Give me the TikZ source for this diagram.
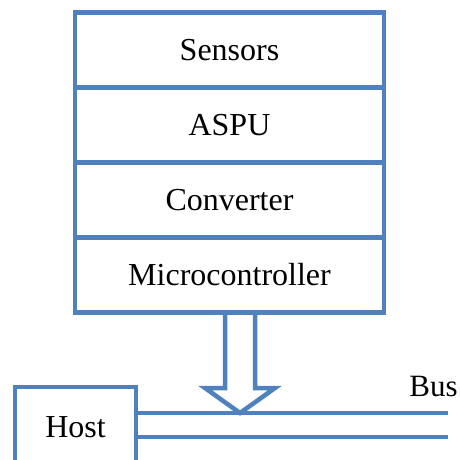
\documentclass[tikz,border=0pt]{standalone}
\usepackage{fontspec}
\setmainfont{Liberation Serif}
\usetikzlibrary{calc,positioning}
\definecolor{stackblue}{RGB}{79,129,189}
\tikzset{
    % one layer of the sensor node stack
    layer/.style={
        rectangle, draw=stackblue, line width=4.5pt,
        minimum width=309pt, minimum height=75pt,
        inner sep=0pt, outer sep=0pt,
        font=\fontsize{32}{38}\selectfont
    },
    % host box (bottom runs off the picture)
    hostbox/.style={layer, minimum width=121pt, minimum height=80pt},
    % bus wires and the hollow arrow
    busline/.style={stackblue, line width=4.5pt},
    fatarrow/.style={draw=stackblue, line width=4.5pt, line join=miter},
    buslabel/.style={font=\fontsize{31}{36}\selectfont, anchor=base, inner sep=0pt}
}
\begin{document}
\begin{tikzpicture}[x=1pt,y=-1pt]
  \useasboundingbox (0,0) rectangle (459,460);
  \clip (0,0) rectangle (459,460);
  % stack
  \node[layer] (sensors) at (229.5,50) {Sensors};
  \node[layer,below=0pt of sensors] (aspu) {ASPU};
  \node[layer,below=0pt of aspu] (converter) {Converter};
  \node[layer,below=0pt of converter] (micro) {Microcontroller};
  % host and bus
  \node[hostbox] (host) at (75.5,427) {Host};
  \coordinate (bus1end) at (448,413);
  \coordinate (bus2end) at (448,437);
  \draw[busline] (host.east |- bus1end) -- (bus1end);
  \draw[busline] (host.east |- bus2end) -- (bus2end);
  \node[buslabel] (bus) at (433.5,396) {Bus};
  % arrow from the microcontroller to the bus
  \coordinate (tip) at ($(micro.south |- bus1end)+(10.5,0)$);
  \draw[fatarrow] ($(micro.south)+(-4.5,0)$) -- ($(tip)+(-15,-25)$)
    -- ($(tip)+(-35,-25)$) -- (tip) -- ($(tip)+(35,-25)$)
    -- ($(tip)+(15,-25)$) -- ($(micro.south)+(25.5,0)$);
\end{tikzpicture}
\end{document}
